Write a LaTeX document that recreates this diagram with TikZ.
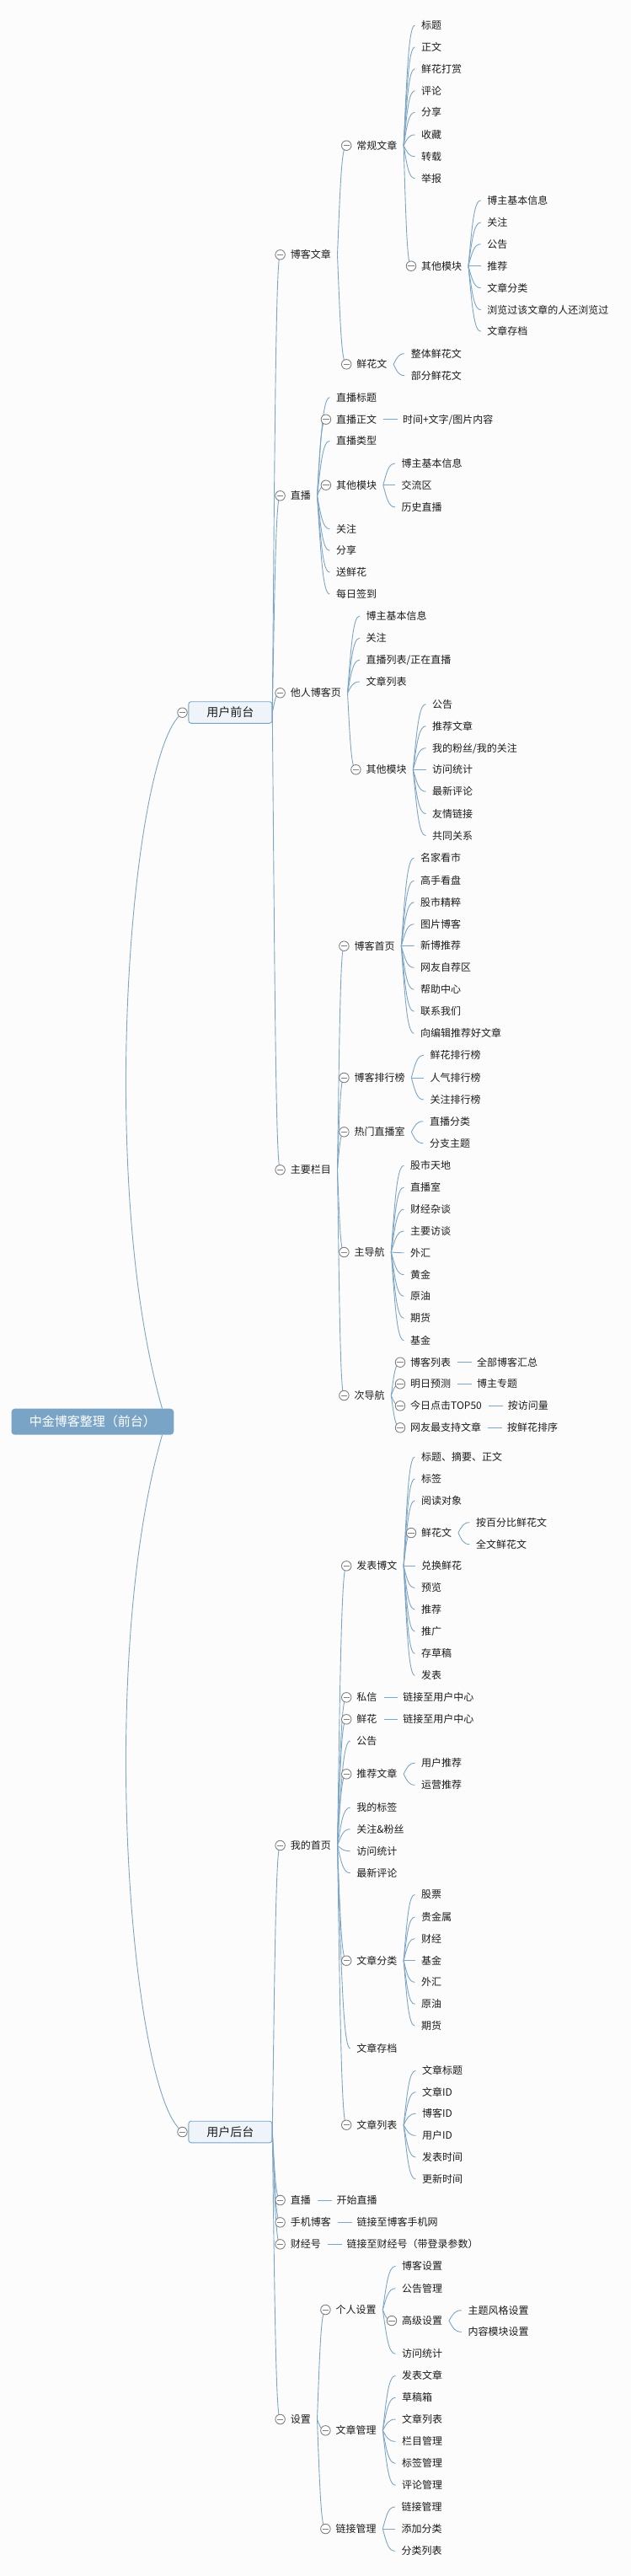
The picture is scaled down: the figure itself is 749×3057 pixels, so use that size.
\documentclass[tikz,border=0pt]{standalone}
\usepackage{fontspec}
\setmainfont{Noto Sans CJK SC}
\usetikzlibrary{calc}
\pgfdeclarelayer{back}\pgfdeclarelayer{bg}\pgfsetlayers{back,bg,main}
\definecolor{linec}{RGB}{125,165,198}
\definecolor{rootc}{RGB}{122,164,198}
\definecolor{boxfill}{RGB}{238,244,249}
\definecolor{boxdraw}{RGB}{122,164,198}
\definecolor{circd}{RGB}{128,128,128}
\definecolor{txtc}{RGB}{28,28,28}
\definecolor{bgc}{RGB}{252,252,252}
\tikzset{
 txt/.style={anchor=west, inner xsep=7.5pt, inner ysep=1pt, text height=10.5pt, text depth=1.5pt, font=\fontsize{12}{14}\selectfont, text=txtc},
 coll/.style={circle, draw=circd, fill=white, line width=0.9pt, minimum size=11.5pt, inner sep=0pt,
   path picture={\draw[circd, line width=0.9pt] ([xshift=-3.6pt]path picture bounding box.center) -- ([xshift=3.6pt]path picture bounding box.center);}},
 conn/.style={draw=linec, line width=0.9pt},
 lvlone/.style={draw=boxdraw, fill=boxfill, rounded corners=3pt, line width=0.9pt, minimum width=99pt, minimum height=25.6pt, inner sep=0pt, font=\fontsize{14}{16}\selectfont, text=txtc},
 rootbox/.style={fill=rootc, rounded corners=4pt, minimum width=192.8pt, minimum height=31pt, inner sep=0pt, font=\fontsize{15}{17}\selectfont, text=white},
}
\newcommand\conncurve[2]{\draw[conn] let \p1=(#1), \p2=(#2) in (\p1) .. controls ({\x1+0.3*(\x2-\x1)},{\y1+0.6*(\y2-\y1)}) and ({\x1+0.45*(\x2-\x1)},\y2) .. (\p2);}
% leaf: parent, name, text x, y, text
\newcommand\LF[5]{\node[txt] (#2) at ({#3-7.5},#4) {#5};\begin{pgfonlayer}{bg}\conncurve{#1.east}{#2.west}\end{pgfonlayer}}
% collapsible node: parent, name, text x, y, text
\newcommand\CN[5]{\node[txt] (#2) at ({#3-7.5},#4) {#5};\node[coll] (#2c) at ({#3-12},#4) {};\begin{pgfonlayer}{bg}\conncurve{#1.east}{#2c}\end{pgfonlayer}}
% straight single child: parent, name, text
\newcommand\RL[3]{\node[txt] (#2) at ([xshift=15.5pt]#1.east) {#3};\begin{pgfonlayer}{bg}\draw[conn] ([xshift=0.5pt]#1.east) -- ([xshift=1.5pt]#2.west);\end{pgfonlayer}}
\begin{document}
\begin{tikzpicture}[x=1pt,y=-1pt]
\begin{pgfonlayer}{back}\fill[bgc] (0,0) rectangle (749,3057);\end{pgfonlayer}
\useasboundingbox (0,0) rectangle (749,3057);

% root and first level
\node[rootbox] (root) at (109.9,1687.2) {中金博客整理（前台）};
\node[lvlone] (qt) at (273.35,845.5) {用户前台};
\node[coll] (qtc) at (216.5,845.7) {};
\node[lvlone] (ht) at (273.35,2530) {用户后台};
\node[coll] (htc) at (216.5,2530) {};
\coordinate (r1) at ([xshift=-14pt]root.north east);
\coordinate (r2) at ([xshift=-14pt]root.south east);
\begin{pgfonlayer}{bg}
\draw[conn] (r1) .. controls (115,1400) and (155,910) .. (qtc);
\draw[conn] (r2) .. controls (115,1975) and (155,2466) .. (htc);
\end{pgfonlayer}

% ===== 用户前台 =====
\CN{qt}{bkwz}{344.6}{302.3}{博客文章}
\CN{qt}{zb}{344.6}{588.3}{直播}
\CN{qt}{trbk}{344.6}{822.3}{他人博客页}
\CN{qt}{zylm}{344.6}{1388.3}{主要栏目}

% 博客文章
\CN{bkwz}{cgwz}{423.2}{172.7}{常规文章}
\CN{bkwz}{xhw}{423.2}{432.3}{鲜花文}
\LF{cgwz}{a1}{500}{30}{标题}
\LF{cgwz}{a2}{500}{56}{正文}
\LF{cgwz}{a3}{500}{81.7}{鲜花打赏}
\LF{cgwz}{a4}{500}{107.7}{评论}
\LF{cgwz}{a5}{500}{133.3}{分享}
\LF{cgwz}{a6}{500}{160}{收藏}
\LF{cgwz}{a7}{500}{185.7}{转载}
\LF{cgwz}{a8}{500}{211.7}{举报}
\CN{cgwz}{qtmk}{500}{315.7}{其他模块}
\LF{qtmk}{b1}{578.2}{237.7}{博主基本信息}
\LF{qtmk}{b2}{578.2}{264}{关注}
\LF{qtmk}{b3}{578.2}{289.7}{公告}
\LF{qtmk}{b4}{578.2}{315.7}{推荐}
\LF{qtmk}{b5}{578.2}{341.7}{文章分类}
\LF{qtmk}{b6}{578.2}{367.7}{浏览过该文章的人还浏览过}
\LF{qtmk}{b7}{578.2}{393.3}{文章存档}
\LF{xhw}{c1}{487.7}{419.7}{整体鲜花文}
\LF{xhw}{c2}{487.7}{445.7}{部分鲜花文}

% 直播
\LF{zb}{d1}{398.9}{471.7}{直播标题}
\CN{zb}{d2}{398.9}{497.7}{直播正文}
\RL{d2}{d2a}{时间+文字/图片内容}
\LF{zb}{d3}{398.9}{523.3}{直播类型}
\CN{zb}{d4}{398.9}{575.7}{其他模块}
\LF{d4}{d4a}{476.5}{550}{博主基本信息}
\LF{d4}{d4b}{476.5}{575.7}{交流区}
\LF{d4}{d4c}{476.5}{601.7}{历史直播}
\LF{zb}{d5}{398.9}{627.7}{关注}
\LF{zb}{d6}{398.9}{653.3}{分享}
\LF{zb}{d7}{398.9}{679.3}{送鲜花}
\LF{zb}{d8}{398.9}{705}{每日签到}

% 他人博客页
\LF{trbk}{e1}{434.4}{731}{博主基本信息}
\LF{trbk}{e2}{434.4}{757.3}{关注}
\LF{trbk}{e3}{434.4}{783.3}{直播列表/正在直播}
\LF{trbk}{e4}{434.4}{809}{文章列表}
\CN{trbk}{e5}{434.4}{913.3}{其他模块}
\LF{e5}{f1}{513}{835.7}{公告}
\LF{e5}{f2}{513}{861.7}{推荐文章}
\LF{e5}{f3}{513}{887.7}{我的粉丝/我的关注}
\LF{e5}{f4}{513}{913.3}{访问统计}
\LF{e5}{f5}{513}{939.3}{最新评论}
\LF{e5}{f6}{513}{965.7}{友情链接}
\LF{e5}{f7}{513}{991.7}{共同关系}

% 主要栏目
\CN{zylm}{g1}{420.4}{1122.7}{博客首页}
\LF{g1}{g1a}{499}{1018.3}{名家看市}
\LF{g1}{g1b}{499}{1045}{高手看盘}
\LF{g1}{g1c}{499}{1070.7}{股市精粹}
\LF{g1}{g1d}{499}{1096.7}{图片博客}
\LF{g1}{g1e}{499}{1122.3}{新博推荐}
\LF{g1}{g1f}{499}{1148.3}{网友自荐区}
\LF{g1}{g1g}{499}{1174.3}{帮助中心}
\LF{g1}{g1h}{499}{1200.3}{联系我们}
\LF{g1}{g1i}{499}{1226.3}{向编辑推荐好文章}
\CN{zylm}{g2}{420.4}{1279}{博客排行榜}
\LF{g2}{g2a}{510.5}{1252.3}{鲜花排行榜}
\LF{g2}{g2b}{510.5}{1279}{人气排行榜}
\LF{g2}{g2c}{510.5}{1305}{关注排行榜}
\CN{zylm}{g3}{420.4}{1343.3}{热门直播室}
\LF{g3}{g3a}{509.8}{1330.7}{直播分类}
\LF{g3}{g3b}{509.8}{1356.7}{分支主题}
\CN{zylm}{g4}{420.4}{1486}{主导航}
\LF{g4}{g4a}{487}{1383.3}{股市天地}
\LF{g4}{g4b}{487}{1409}{直播室}
\LF{g4}{g4c}{487}{1435}{财经杂谈}
\LF{g4}{g4d}{487}{1461}{主要访谈}
\LF{g4}{g4e}{487}{1486.7}{外汇}
\LF{g4}{g4f}{487}{1512.7}{黄金}
\LF{g4}{g4g}{487}{1538.3}{原油}
\LF{g4}{g4h}{487}{1564.3}{期货}
\LF{g4}{g4i}{487}{1590.7}{基金}
\CN{zylm}{g5}{420.4}{1656}{次导航}
\CN{g5}{k1}{487}{1616.7}{博客列表}
\RL{k1}{k1a}{全部博客汇总}
\CN{g5}{k2}{487}{1642.3}{明日预测}
\RL{k2}{k2a}{博主专题}
\CN{g5}{k3}{487}{1668.3}{今日点击TOP50}
\RL{k3}{k3a}{按访问量}
\CN{g5}{k4}{487}{1694.3}{网友最支持文章}
\RL{k4}{k4a}{按鲜花排序}

% ===== 用户后台 =====
\CN{ht}{wdsy}{344.6}{2190}{我的首页}
\CN{ht}{hzb}{344.6}{2611}{直播}
\RL{hzb}{hzba}{开始直播}
\CN{ht}{sjbk}{344.6}{2637.3}{手机博客}
\RL{sjbk}{sjbka}{链接至博客手机网}
\CN{ht}{cjh}{344.6}{2663.3}{财经号}
\RL{cjh}{cjha}{链接至财经号（带登录参数）}
\CN{ht}{sz}{344.6}{2871}{设置}

% 我的首页
\CN{wdsy}{h1}{423.2}{1858.3}{发表博文}
\LF{h1}{h1a}{500}{1729}{标题、摘要、正文}
\LF{h1}{h1b}{500}{1755}{标签}
\LF{h1}{h1c}{500}{1780.7}{阅读对象}
\CN{h1}{h1x}{500}{1819}{鲜花文}
\LF{h1x}{h1xa}{564.9}{1806.7}{按百分比鲜花文}
\LF{h1x}{h1xb}{564.9}{1832.7}{全文鲜花文}
\LF{h1}{h1d}{500}{1858.3}{兑换鲜花}
\LF{h1}{h1e}{500}{1884.3}{预览}
\LF{h1}{h1f}{500}{1910}{推荐}
\LF{h1}{h1g}{500}{1936}{推广}
\LF{h1}{h1h}{500}{1962.3}{存草稿}
\LF{h1}{h1i}{500}{1988.3}{发表}
\CN{wdsy}{h2}{423.2}{2014.3}{私信}
\RL{h2}{h2a}{链接至用户中心}
\CN{wdsy}{h3}{423.2}{2040.3}{鲜花}
\RL{h3}{h3a}{链接至用户中心}
\LF{wdsy}{h4}{423.2}{2066}{公告}
\CN{wdsy}{h5}{423.2}{2105.3}{推荐文章}
\LF{h5}{h5a}{500}{2092.3}{用户推荐}
\LF{h5}{h5b}{500}{2118.3}{运营推荐}
\LF{wdsy}{h6}{423.2}{2145}{我的标签}
\LF{wdsy}{h7}{423.2}{2170.7}{关注\&粉丝}
\LF{wdsy}{h8}{423.2}{2196.7}{访问统计}
\LF{wdsy}{h9}{423.2}{2222.7}{最新评论}
\CN{wdsy}{h10}{423.2}{2326.7}{文章分类}
\LF{h10}{h10a}{500}{2248.3}{股票}
\LF{h10}{h10b}{500}{2275}{贵金属}
\LF{h10}{h10c}{500}{2300.7}{财经}
\LF{h10}{h10d}{500}{2326.7}{基金}
\LF{h10}{h10e}{500}{2352.3}{外汇}
\LF{h10}{h10f}{500}{2378.3}{原油}
\LF{h10}{h10g}{500}{2404}{期货}
\LF{wdsy}{h11}{423.2}{2431}{文章存档}
\CN{wdsy}{h12}{423.2}{2521.7}{文章列表}
\LF{h12}{h12a}{501}{2457.3}{文章标题}
\LF{h12}{h12b}{501}{2482.7}{文章ID}
\LF{h12}{h12c}{501}{2508.3}{博客ID}
\LF{h12}{h12d}{501}{2534.3}{用户ID}
\LF{h12}{h12e}{501}{2560}{发表时间}
\LF{h12}{h12f}{501}{2586}{更新时间}

% 设置
\CN{sz}{s1}{398.4}{2741}{个人设置}
\LF{s1}{s1a}{477}{2689.3}{博客设置}
\LF{s1}{s1b}{477}{2715.7}{公告管理}
\CN{s1}{s1g}{477}{2754}{高级设置}
\LF{s1g}{s1ga}{555.3}{2741.7}{主题风格设置}
\LF{s1g}{s1gb}{555.3}{2767.3}{内容模块设置}
\LF{s1}{s1c}{477}{2793.3}{访问统计}
\CN{sz}{s2}{398.4}{2884.3}{文章管理}
\LF{s2}{s2a}{477}{2819.3}{发表文章}
\LF{s2}{s2b}{477}{2845.3}{草稿箱}
\LF{s2}{s2c}{477}{2871}{文章列表}
\LF{s2}{s2d}{477}{2897.3}{栏目管理}
\LF{s2}{s2e}{477}{2923.3}{标签管理}
\LF{s2}{s2f}{477}{2949.3}{评论管理}
\CN{sz}{s3}{398.4}{3001}{链接管理}
\LF{s3}{s3a}{476.3}{2975}{链接管理}
\LF{s3}{s3b}{476.3}{3001}{添加分类}
\LF{s3}{s3c}{476.3}{3027.3}{分类列表}
\end{tikzpicture}
\end{document}
